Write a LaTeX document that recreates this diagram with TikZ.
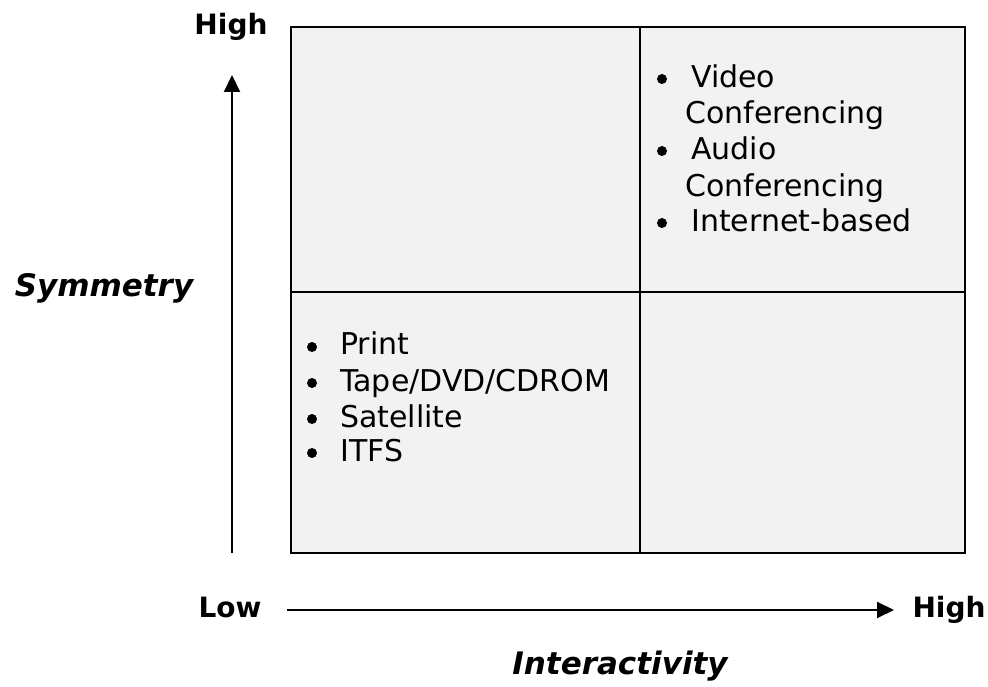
\documentclass[tikz,border=0pt]{standalone}
\usepackage{fontspec}
\setmainfont{DejaVu Sans}
\usetikzlibrary{arrows.meta}

\begin{document}
\begin{tikzpicture}[x=1pt,y=1pt,
  axislabel/.style={font=\fontsize{28}{32}\selectfont\bfseries,anchor=base},
  axistitle/.style={font=\fontsize{31}{36}\selectfont\bfseries\itshape,anchor=base},
  item/.style={font=\fontsize{30}{34}\selectfont,anchor=base west,inner sep=0pt},
  dot/.style={circle,fill=black,inner sep=0pt,minimum size=10pt},
  axis/.style={line width=2pt,-{Triangle[length=17pt,width=16pt]}}]
\useasboundingbox (0,0) rectangle (988,687);
% quadrants
\filldraw[fill=black!5,line width=2pt] (291,134) rectangle (965,660);
\draw[line width=2pt] (640,134)--(640,660);
\draw[line width=2pt] (291,395)--(965,395);
% axes
\coordinate (ylow) at (232,134);
\coordinate (yhigh) at (232,612);
\coordinate (xlow) at (287,77);
\coordinate (xhigh) at (894,77);
\draw[axis] (ylow)--(yhigh);
\draw[axis] (xlow)--(xhigh);
\node[axislabel] (tophigh) at (231,652) {High};
\node[axislabel] (low) at (230,69) {Low};
\node[axislabel] (righthigh) at (949,69) {High};
\node[axistitle] (sym) at (104,390) {Symmetry};
\node[axistitle] (inter) at (620,12) {Interactivity};
% upper right
\node[dot] (b1) at (662,608) {};
\node[item] (vid) at (691,599) {Video};
\node[item] (vid2) at (685,563) {Conferencing};
\node[dot] (b2) at (662,536) {};
\node[item] (aud) at (691,527) {Audio};
\node[item] (aud2) at (685,490) {Conferencing};
\node[dot] (b3) at (662,464) {};
\node[item] (net) at (691,455) {Internet-based};
% lower left
\node[dot] (b4) at (312,340) {};
\node[item] (print) at (340,332) {Print};
\node[dot] (b5) at (312,304) {};
\node[item] (tape) at (340,295) {Tape/DVD/CDROM};
\node[dot] (b6) at (312,268) {};
\node[item] (sat) at (340,259) {Satellite};
\node[dot] (b7) at (312,234) {};
\node[item] (itfs) at (340,225) {ITFS};
\end{tikzpicture}
\end{document}
